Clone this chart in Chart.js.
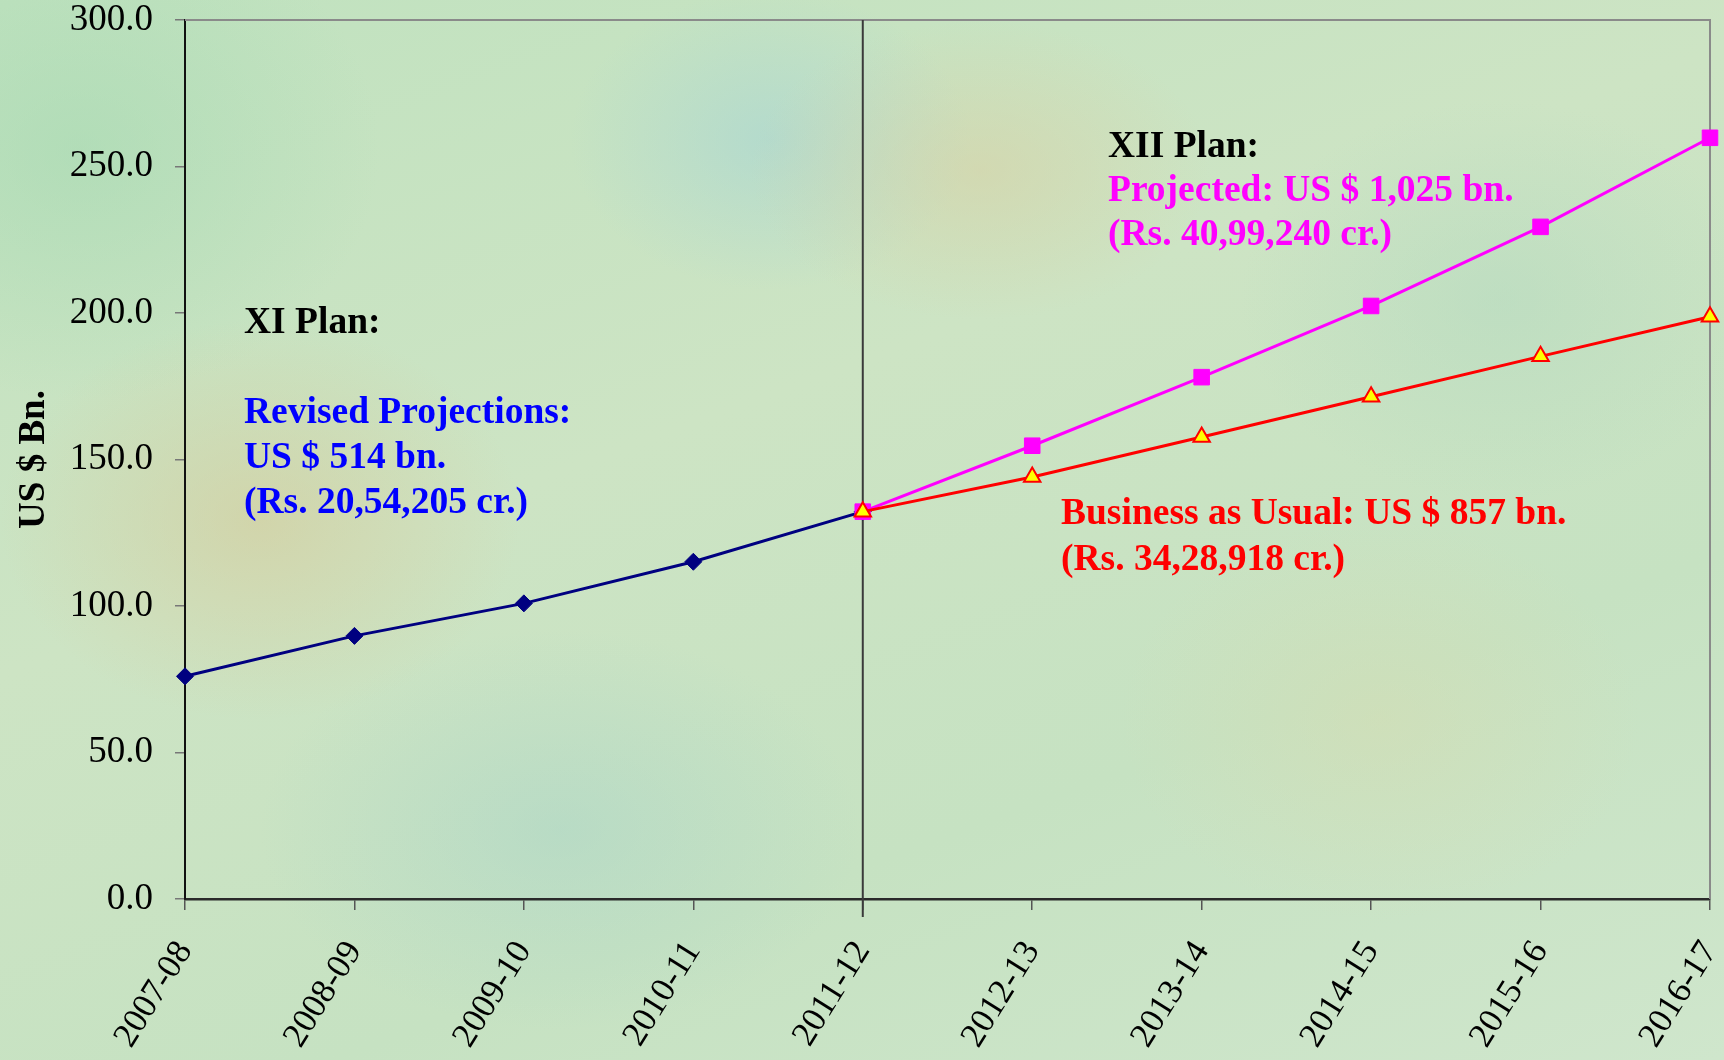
<!DOCTYPE html>
<html lang="en">

<head>
  <meta charset="UTF-8" />
  <title>Plan outlay</title>
  <script src="https://cdn.jsdelivr.net/npm/chart.js"></script>
  <style>
    html, body {
      margin: 0;
      padding: 0;
      overflow: hidden;
    }
    body {
      width: 1724px;
      height: 1060px;
      background:
        radial-gradient(ellipse 260px 200px at 260px 520px, rgba(214, 200, 150, 0.55), rgba(214, 200, 150, 0)),
        radial-gradient(ellipse 230px 150px at 980px 170px, rgba(218, 206, 160, 0.5), rgba(218, 206, 160, 0)),
        radial-gradient(ellipse 200px 150px at 770px 140px, rgba(160, 210, 215, 0.5), rgba(160, 210, 215, 0)),
        radial-gradient(ellipse 300px 200px at 560px 830px, rgba(165, 210, 200, 0.45), rgba(165, 210, 200, 0)),
        radial-gradient(ellipse 260px 200px at 1380px 720px, rgba(218, 218, 172, 0.4), rgba(218, 218, 172, 0)),
        radial-gradient(ellipse 300px 250px at 80px 150px, rgba(160, 215, 175, 0.5), rgba(160, 215, 175, 0)),
        radial-gradient(ellipse 260px 200px at 1500px 300px, rgba(175, 215, 190, 0.45), rgba(175, 215, 190, 0)),
        linear-gradient(160deg, #c0e2bf 0%, #cde4c4 40%, #c6e2c2 70%, #cfe6cc 100%);
    }
    .chart-box {
      position: relative;
      width: 1724px;
      height: 1060px;
    }
  </style>
</head>

<body>
  <div class="chart-box">
    <canvas id="graficoPlano"></canvas>
  </div>

  <script>
    // valores (US $ bn)
    const anos = ['2007-08', '2008-09', '2009-10', '2010-11', '2011-12',
      '2012-13', '2013-14', '2014-15', '2015-16', '2016-17'];
    const planoXI = [76.0, 89.8, 100.9, 115.1, 132.2, null, null, null, null, null];
    const projetadoXII = [null, null, null, null, 132.2, 154.7, 178.1, 202.4, 229.4, 259.8];
    const usualXII = [null, null, null, null, 132.2, 144.0, 157.7, 171.4, 185.2, 198.7];
    const eixoY = { min: 0, max: 300, passo: 50 };
    const anoDivisao = '2011-12';

    const textoXI = ['XI Plan:', 'Revised Projections:', 'US $ 514 bn.', '(Rs. 20,54,205 cr.)'];
    const textoXII = ['XII Plan:', 'Projected: US $ 1,025 bn.', '(Rs. 40,99,240 cr.)'];
    const textoUsual = ['Business as Usual: US $ 857 bn.', '(Rs. 34,28,918 cr.)'];

    const serif = "'Liberation Serif', 'Times New Roman', serif";

    // linha vertical, bordas e textos
    const extras = {
      id: 'extras',
      beforeDatasetsDraw(chart) {
        const { ctx, chartArea: a, scales: { x } } = chart;
        ctx.save();
        ctx.strokeStyle = '#8a8a8a';
        ctx.lineWidth = 2;
        ctx.beginPath();
        ctx.moveTo(a.left, a.top);
        ctx.lineTo(a.right, a.top);
        ctx.lineTo(a.right, a.bottom);
        ctx.stroke();

        const xd = x.getPixelForValue(anos.indexOf(anoDivisao));
        ctx.strokeStyle = '#3a3a3a';
        ctx.lineWidth = 2;
        ctx.beginPath();
        ctx.moveTo(xd, a.top);
        ctx.lineTo(xd, a.bottom + 18);
        ctx.stroke();
        ctx.restore();
      },
      afterDraw(chart) {
        const ctx = chart.ctx;
        ctx.save();
        ctx.font = 'bold 37.5px ' + serif;
        ctx.textAlign = 'left';
        ctx.textBaseline = 'alphabetic';

        const corXI = ['#000000', '#0000ff', '#0000ff', '#0000ff'];
        const baseXI = [333, 423, 468, 513];
        textoXI.forEach((t, i) => {
          ctx.fillStyle = corXI[i];
          ctx.fillText(t, 244, baseXI[i]);
        });

        const corXII = ['#000000', '#ff00ff', '#ff00ff'];
        const baseXII = [157, 201, 245];
        textoXII.forEach((t, i) => {
          ctx.fillStyle = corXII[i];
          ctx.fillText(t, 1108, baseXII[i]);
        });

        ctx.fillStyle = '#ff0000';
        textoUsual.forEach((t, i) => {
          ctx.fillText(t, 1061, 524 + i * 46);
        });
        ctx.restore();
      }
    };

    const grafico = new Chart(document.getElementById('graficoPlano'), {
      type: 'line',
      data: {
        labels: anos,
        datasets: [
          {
            label: 'Business as Usual',
            data: usualXII,
            borderColor: '#ff0000',
            borderWidth: 3,
            pointStyle: 'triangle',
            pointRadius: 9.5,
            pointBackgroundColor: '#ffff00',
            pointBorderColor: '#ff0000',
            pointBorderWidth: 2,
            tension: 0,
            order: 0
          },
          {
            label: 'Projected',
            data: projetadoXII,
            borderColor: '#ff00ff',
            borderWidth: 3,
            pointStyle: 'rect',
            pointRadius: 11,
            pointBackgroundColor: '#ff00ff',
            pointBorderColor: '#ff00ff',
            pointBorderWidth: 1,
            tension: 0,
            order: 1
          },
          {
            label: 'XI Plan',
            data: planoXI,
            borderColor: '#000080',
            borderWidth: 3,
            pointStyle: 'rectRot',
            pointRadius: 8.5,
            pointBackgroundColor: '#000080',
            pointBorderColor: '#000080',
            pointBorderWidth: 1,
            tension: 0,
            order: 2
          }
        ]
      },
      options: {
        responsive: true,
        maintainAspectRatio: false,
        animation: false,
        layout: {
          padding: { top: 20, right: 14, left: 0, bottom: 0 }
        },
        plugins: {
          legend: { display: false },
          tooltip: { enabled: false }
        },
        scales: {
          x: {
            type: 'category',
            offset: false,
            afterFit: (s) => {
              s.height = 161;
              s.paddingLeft = 0;
              s.paddingRight = 0;
            },
            grid: {
              drawOnChartArea: false,
              drawTicks: true,
              tickLength: 11,
              color: '#555555',
              lineWidth: 1.5
            },
            border: { display: true, color: '#2a2a2a', width: 2.5 },
            ticks: {
              autoSkip: false,
              minRotation: 58,
              maxRotation: 58,
              padding: 24,
              color: '#000000',
              font: { family: serif, size: 35 }
            }
          },
          y: {
            min: eixoY.min,
            max: eixoY.max,
            afterFit: (s) => {
              s.width = 185;
              s.paddingTop = 0;
              s.paddingBottom = 0;
            },
            grid: {
              drawOnChartArea: false,
              drawTicks: true,
              tickLength: 10,
              color: '#777777',
              lineWidth: 1.5
            },
            border: { display: true, color: '#111111', width: 2 },
            ticks: {
              stepSize: eixoY.passo,
              padding: 22,
              color: '#000000',
              font: { family: serif, size: 37 },
              callback: (v) => Number(v).toFixed(1)
            },
            title: {
              display: true,
              text: 'US $ Bn.',
              color: '#000000',
              font: { family: serif, size: 37, weight: 'bold' },
              padding: { top: 12, bottom: 0 }
            }
          }
        }
      },
      plugins: [extras]
    });
  </script>
</body>

</html>
